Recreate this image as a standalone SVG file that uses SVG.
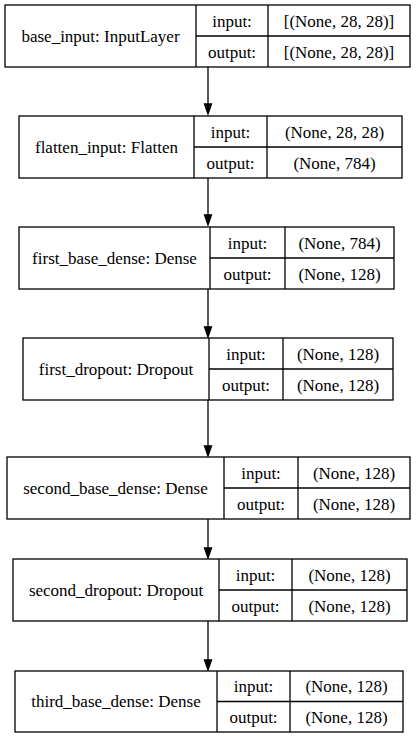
<svg xmlns="http://www.w3.org/2000/svg" width="416" height="737" viewBox="0 0 416 737">
  <style>
    .box { fill: #ffffff; stroke: #000000; stroke-width: 1.3; }
    .ln { stroke: #000000; stroke-width: 1.3; fill: none; }
    text { font-family: 'Liberation Serif', 'Times New Roman', serif; font-size: 17px; fill: #000000; text-anchor: middle; }
    .edge { stroke: #000000; stroke-width: 1.3; fill: none; }
    .head { fill: #000000; stroke: #000000; stroke-width: 1.3; }
  </style>
  <rect x="0" y="0" width="416" height="737" fill="#ffffff"/>

  <!-- connectors between consecutive layers -->
  <g id="edges">
    <line class="edge" x1="208" y1="67" x2="208" y2="104"/>
    <polygon class="head" points="204.5,104 211.5,104 208,114"/>
    <line class="edge" x1="208" y1="178" x2="208" y2="215"/>
    <polygon class="head" points="204.5,215 211.5,215 208,225"/>
    <line class="edge" x1="208" y1="289" x2="208" y2="327"/>
    <polygon class="head" points="204.5,327 211.5,327 208,337"/>
    <line class="edge" x1="208" y1="400" x2="208" y2="446"/>
    <polygon class="head" points="204.5,446 211.5,446 208,456"/>
    <line class="edge" x1="208" y1="519" x2="208" y2="548"/>
    <polygon class="head" points="204.5,548 211.5,548 208,558"/>
    <line class="edge" x1="208" y1="621" x2="208" y2="660"/>
    <polygon class="head" points="204.5,660 211.5,660 208,670"/>
  </g>

  <g id="base_input">
    <rect class="box" x="5" y="5" width="405" height="62"/>
    <line class="ln" x1="196" y1="5" x2="196" y2="67"/>
    <line class="ln" x1="268" y1="5" x2="268" y2="67"/>
    <line class="ln" x1="196" y1="36" x2="410" y2="36"/>
    <text x="100.5" y="41.5">base_input: InputLayer</text>
    <text x="232" y="26.5">input:</text>
    <text x="232" y="57.5">output:</text>
    <text x="339" y="26.5">[(None, 28, 28)]</text>
    <text x="339" y="57.5">[(None, 28, 28)]</text>
  </g>

  <g id="flatten_input">
    <rect class="box" x="19" y="116" width="383" height="62"/>
    <line class="ln" x1="194" y1="116" x2="194" y2="178"/>
    <line class="ln" x1="267" y1="116" x2="267" y2="178"/>
    <line class="ln" x1="194" y1="147" x2="402" y2="147"/>
    <text x="106.5" y="152.5">flatten_input: Flatten</text>
    <text x="230.5" y="137.5">input:</text>
    <text x="230.5" y="168.5">output:</text>
    <text x="334.5" y="137.5">(None, 28, 28)</text>
    <text x="334.5" y="168.5">(None, 784)</text>
  </g>

  <g id="first_base_dense">
    <rect class="box" x="19" y="227" width="375" height="62"/>
    <line class="ln" x1="210" y1="227" x2="210" y2="289"/>
    <line class="ln" x1="285" y1="227" x2="285" y2="289"/>
    <line class="ln" x1="210" y1="258" x2="394" y2="258"/>
    <text x="114.5" y="263.5">first_base_dense: Dense</text>
    <text x="247.5" y="248.5">input:</text>
    <text x="247.5" y="279.5">output:</text>
    <text x="339.5" y="248.5">(None, 784)</text>
    <text x="339.5" y="279.5">(None, 128)</text>
  </g>

  <g id="first_dropout">
    <rect class="box" x="23" y="338" width="370" height="62"/>
    <line class="ln" x1="209" y1="338" x2="209" y2="400"/>
    <line class="ln" x1="283" y1="338" x2="283" y2="400"/>
    <line class="ln" x1="209" y1="369" x2="393" y2="369"/>
    <text x="116" y="374.5">first_dropout: Dropout</text>
    <text x="246" y="359.5">input:</text>
    <text x="246" y="390.5">output:</text>
    <text x="338" y="359.5">(None, 128)</text>
    <text x="338" y="390.5">(None, 128)</text>
  </g>

  <g id="second_base_dense">
    <rect class="box" x="7" y="457" width="403" height="62"/>
    <line class="ln" x1="224" y1="457" x2="224" y2="519"/>
    <line class="ln" x1="298" y1="457" x2="298" y2="519"/>
    <line class="ln" x1="224" y1="488" x2="410" y2="488"/>
    <text x="115.5" y="493.5">second_base_dense: Dense</text>
    <text x="261" y="478.5">input:</text>
    <text x="261" y="509.5">output:</text>
    <text x="354" y="478.5">(None, 128)</text>
    <text x="354" y="509.5">(None, 128)</text>
  </g>

  <g id="second_dropout">
    <rect class="box" x="13" y="559" width="394" height="62"/>
    <line class="ln" x1="219" y1="559" x2="219" y2="621"/>
    <line class="ln" x1="292" y1="559" x2="292" y2="621"/>
    <line class="ln" x1="219" y1="590" x2="407" y2="590"/>
    <text x="116" y="595.5">second_dropout: Dropout</text>
    <text x="255.5" y="580.5">input:</text>
    <text x="255.5" y="611.5">output:</text>
    <text x="349.5" y="580.5">(None, 128)</text>
    <text x="349.5" y="611.5">(None, 128)</text>
  </g>

  <g id="third_base_dense">
    <rect class="box" x="15" y="671" width="388" height="61"/>
    <line class="ln" x1="217" y1="671" x2="217" y2="732"/>
    <line class="ln" x1="290" y1="671" x2="290" y2="732"/>
    <line class="ln" x1="217" y1="701.5" x2="403" y2="701.5"/>
    <text x="116" y="707">third_base_dense: Dense</text>
    <text x="253.5" y="692">input:</text>
    <text x="253.5" y="722.5">output:</text>
    <text x="346.5" y="692">(None, 128)</text>
    <text x="346.5" y="722.5">(None, 128)</text>
  </g>
</svg>
